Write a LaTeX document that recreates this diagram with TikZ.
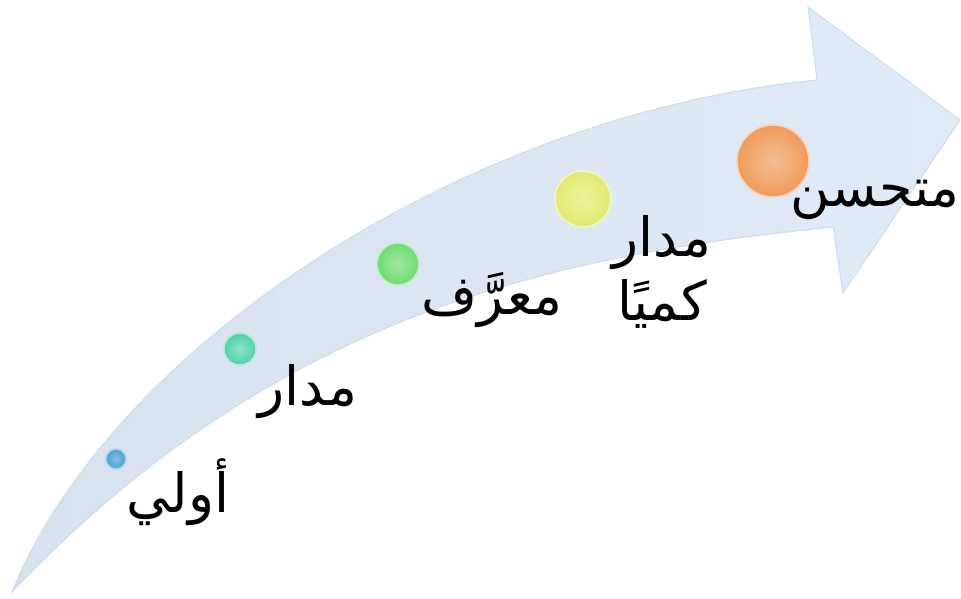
\documentclass[tikz,border=0pt]{standalone}
\usepackage{fontspec}
\usetikzlibrary{positioning}
\TeXXeTstate=1
\newfontfamily\arabicfont[Script=Arabic]{DejaVu Sans}
\definecolor{arrowblue}{RGB}{224,235,248}
\definecolor{arrowgray}{RGB}{216,226,238}
\definecolor{edgeblue}{RGB}{205,220,238}
\definecolor{ballblue}{RGB}{70,160,210}
\definecolor{ballteal}{RGB}{80,210,170}
\definecolor{ballgreen}{RGB}{110,220,110}
\definecolor{ballyellow}{RGB}{225,235,110}
\definecolor{ballorange}{RGB}{240,155,90}

\begin{document}
\begin{tikzpicture}[x=0.5pt, y=-0.5pt,
  ball/.style={circle, inner sep=0pt, draw=#1!45!white, line width=0.8pt,
    inner color=#1!65!white, outer color=#1},
  steplabel/.style={font=\arabicfont\fontsize{27}{32}\selectfont, inner sep=0pt, align=center}]
\useasboundingbox (0,0) rectangle (961,598);
% curved arrow
\draw[edgeblue, line width=0.5pt, left color=arrowgray, right color=arrowblue]
  (12,592) .. controls (110,350) and (460,115) .. (817,80)
  -- (808,7) -- (960,120) -- (843,293) -- (833,227)
  .. controls (560,255) and (280,310) .. (12,592) -- cycle;
% stages
\node[ball=ballblue, minimum size=10pt] (b1) at (116,459) {};
\node[ball=ballteal, minimum size=16pt] (b2) at (240,349) {};
\node[ball=ballgreen, minimum size=21pt] (b3) at (398,264) {};
\node[ball=ballyellow, minimum size=28pt] (b4) at (583,199) {};
\node[ball=ballorange, minimum size=36pt] (b5) at (773,161) {};
\node[steplabel] (l1) at (178,492) {\beginR أولي\endR};
\node[steplabel] (l2) at (308,392) {\beginR مدار\endR};
\node[steplabel] (l3) at (492,300) {\beginR معرَّف\endR};
\node[steplabel] (l4) at (662,272) {\beginR مدار\endR\\\beginR كميًا\endR};
\node[steplabel, anchor=east] (l5) at (960,200) {\beginR متحسن\endR};
\end{tikzpicture}
\end{document}
